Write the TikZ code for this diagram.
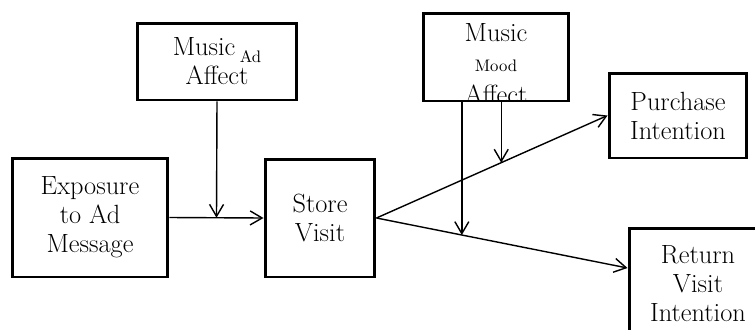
\documentclass[tikz,border=0pt]{standalone}
\usetikzlibrary{arrows.meta,calc}
\tikzset{
  box/.style={draw,line width=1.7pt,align=center,inner sep=2pt,
    font=\fontsize{15}{16.5}\selectfont},
  arr/.style={line width=0.8pt,-{Straight Barb[length=2.4mm,width=2.8mm,line width=0.8pt]}}
}
\newcommand\smalltxt[1]{{\fontsize{9.5}{11}\selectfont #1}}
\begin{document}
\begin{tikzpicture}[x=0.02cm,y=-0.02cm]
\useasboundingbox (0,0) rectangle (755,329);
\node[box,minimum width=3.12cm,minimum height=2.38cm] (expo) at (90,217.5) {Exposure\\to Ad\\Message};
\node[box,minimum width=2.2cm,minimum height=2.36cm] (store) at (320,218) {Store\\Visit};
\node[box,minimum width=3.2cm,minimum height=1.54cm] (musicad) at (217,61.5)
  {Music\,\raisebox{-0.6ex}{\smalltxt{Ad}}\\Affect};
\node[box,minimum width=2.92cm,minimum height=1.76cm,
  path picture={\node[align=center,anchor=north,inner sep=0pt,font=\fontsize{15}{16.5}\selectfont]
    at ([yshift=-0.1cm]path picture bounding box.north)
    {Music\\[1pt]\smalltxt{Mood}\\[1.5pt]Affect};}] (musicmood) at (496,57) {};
\node[box,minimum width=2.76cm,minimum height=1.7cm] (purchase) at (678,115.5) {Purchase\\Intention};
\node[box,minimum width=2.76cm,minimum height=2.24cm] (return) at (698,284) {Return\\Visit\\Intention};
\coordinate (rin) at ([yshift=0.32cm]return.west);
\coordinate (admid) at ($(expo.east)!0.5!(store.west)$);
\coordinate (m1) at ($(store.east)!0.34!(rin)$);
\coordinate (m2) at ($(store.east)!0.54!(purchase.west)$);
\draw[arr] (expo.east) -- (store.west);
\draw[arr] (musicad.south) -- (admid);
\draw[arr] (store.east) -- (purchase.west);
\draw[arr] (store.east) -- (rin);
\draw[arr] (musicmood.south -| m1) -- (m1);
\draw[arr] (musicmood.south -| m2) -- (m2);
\end{tikzpicture}
\end{document}
